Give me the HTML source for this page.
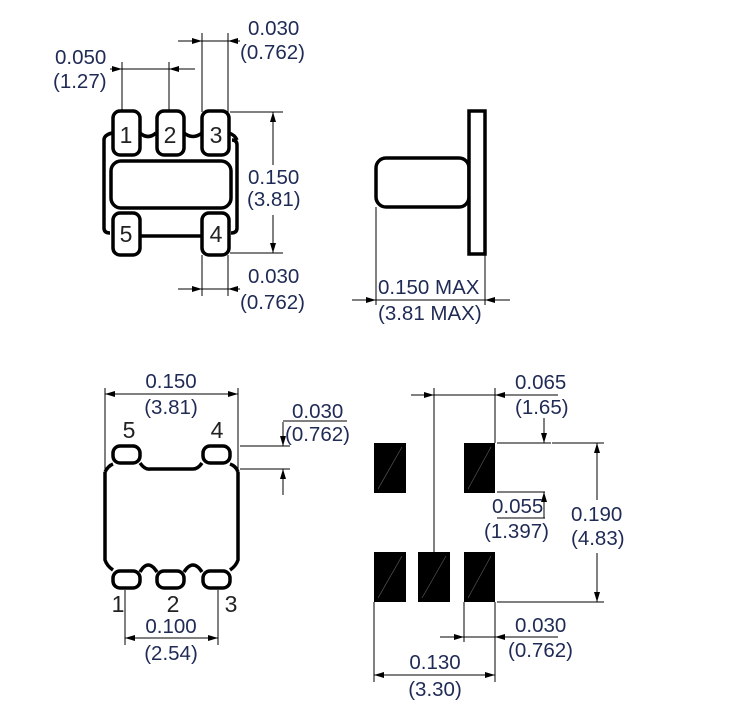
<!DOCTYPE html>
<html><head><meta charset="utf-8"><style>
html,body{margin:0;padding:0;background:#fff;}
svg{display:block;}
text{font-family:"Liberation Sans",sans-serif;font-size:20.5px;fill:#1f2a55;}
.n{font-size:23px;fill:#222;}
</style></head><body>
<svg width="749" height="708" viewBox="0 0 749 708" xmlns="http://www.w3.org/2000/svg">
<defs>
<marker id="a" viewBox="0 0 10 6" refX="10" refY="3" markerWidth="10" markerHeight="6" orient="auto-start-reverse" markerUnits="userSpaceOnUse"><path d="M0,0 L10,3 L0,6 z" fill="#000"/></marker>
</defs>
<g fill="none" stroke="#000" stroke-width="1">
<line x1="202" y1="33" x2="202" y2="112"/><line x1="228" y1="33" x2="228" y2="112"/>
<line x1="178" y1="41" x2="202" y2="41" marker-end="url(#a)"/><line x1="240" y1="41" x2="228" y2="41" marker-end="url(#a)"/>
<line x1="202" y1="41" x2="228" y2="41"/>
<line x1="122" y1="62" x2="122" y2="112"/><line x1="169" y1="62" x2="169" y2="112"/>
<line x1="110" y1="69" x2="122" y2="69" marker-end="url(#a)"/><line x1="195" y1="69" x2="169" y2="69" marker-end="url(#a)"/>
<line x1="122" y1="69" x2="169" y2="69"/>
<line x1="230" y1="112" x2="283" y2="112"/><line x1="230" y1="253" x2="283" y2="253"/>
<line x1="273" y1="165" x2="273" y2="112" marker-end="url(#a)"/><line x1="273" y1="215" x2="273" y2="253" marker-end="url(#a)"/>
<line x1="202" y1="255" x2="202" y2="296"/><line x1="228" y1="255" x2="228" y2="296"/>
<line x1="178" y1="289" x2="202" y2="289" marker-end="url(#a)"/><line x1="240" y1="289" x2="228" y2="289" marker-end="url(#a)"/>
<line x1="202" y1="289" x2="228" y2="289"/>
<line x1="376" y1="207" x2="376" y2="305"/><line x1="485" y1="254" x2="485" y2="305"/>
<line x1="352" y1="300" x2="376" y2="300" marker-end="url(#a)"/><line x1="510" y1="300" x2="485" y2="300" marker-end="url(#a)"/>
<line x1="376" y1="300" x2="485" y2="300"/>
<line x1="105" y1="388" x2="105" y2="470"/><line x1="238" y1="388" x2="238" y2="470"/>
<line x1="105" y1="394" x2="238" y2="394"/>
<line x1="130" y1="394" x2="105" y2="394" marker-end="url(#a)"/><line x1="213" y1="394" x2="238" y2="394" marker-end="url(#a)"/>
<line x1="240" y1="446" x2="290" y2="446"/><line x1="240" y1="469" x2="290" y2="469"/>
<line x1="283" y1="422" x2="283" y2="446" marker-end="url(#a)"/><line x1="283" y1="495" x2="283" y2="469" marker-end="url(#a)"/>
<line x1="283" y1="421" x2="347" y2="421"/>
<line x1="125" y1="590" x2="125" y2="645"/><line x1="218" y1="590" x2="218" y2="645"/>
<line x1="125" y1="638" x2="218" y2="638"/>
<line x1="150" y1="638" x2="125" y2="638" marker-end="url(#a)"/><line x1="193" y1="638" x2="218" y2="638" marker-end="url(#a)"/>
<line x1="434" y1="388" x2="434" y2="552"/><line x1="495" y1="388" x2="495" y2="443"/>
<line x1="411" y1="395" x2="434" y2="395" marker-end="url(#a)"/><line x1="558" y1="395" x2="495" y2="395" marker-end="url(#a)"/>
<line x1="434" y1="395" x2="495" y2="395"/>
<line x1="497" y1="443" x2="551" y2="443"/><line x1="497" y1="492" x2="545" y2="492"/>
<line x1="544" y1="418" x2="544" y2="443" marker-end="url(#a)"/><line x1="544" y1="518" x2="544" y2="492" marker-end="url(#a)"/>
<line x1="497" y1="518" x2="545" y2="518"/>
<line x1="552" y1="443" x2="604" y2="443"/><line x1="497" y1="602" x2="604" y2="602"/>
<line x1="597" y1="500" x2="597" y2="443" marker-end="url(#a)"/><line x1="597" y1="553" x2="597" y2="602" marker-end="url(#a)"/>
<line x1="464" y1="602" x2="464" y2="642"/><line x1="495" y1="602" x2="495" y2="682"/>
<line x1="440" y1="637" x2="464" y2="637" marker-end="url(#a)"/><line x1="558" y1="637" x2="495" y2="637" marker-end="url(#a)"/>
<line x1="464" y1="637" x2="495" y2="637"/>
<line x1="374" y1="602" x2="374" y2="682"/>
<line x1="374" y1="675" x2="495" y2="675"/>
<line x1="400" y1="675" x2="374" y2="675" marker-end="url(#a)"/><line x1="470" y1="675" x2="495" y2="675" marker-end="url(#a)"/>
</g>

<g fill="none" stroke="#000" stroke-width="3.5" stroke-linejoin="round">
<path d="M104,140 L104,228 Q104,233 110,233 M232,140 Q237,140 237,145 L237,228 Q237,233 231,233"/>
<path d="M104,140 Q104,135 112,133 M140,133 Q148,140 156,133 M184,133 Q193,140 202,133 M229,133 Q235,135 237,140"/>
<path d="M140,236 L202,236"/>
<rect x="113" y="111" width="27" height="44" rx="7" fill="#fff"/>
<rect x="157" y="111" width="27" height="44" rx="7" fill="#fff"/>
<rect x="202" y="111" width="27" height="44" rx="7" fill="#fff"/>
<rect x="111" y="161" width="120" height="47" rx="10" fill="#fff"/>
<rect x="113" y="213" width="27" height="42" rx="7" fill="#fff"/>
<rect x="202" y="213" width="27" height="42" rx="7" fill="#fff"/>
</g>
<text class="n" x="126" y="143" text-anchor="middle">1</text>
<text class="n" x="170" y="143" text-anchor="middle">2</text>
<text class="n" x="216" y="143" text-anchor="middle">3</text>
<text class="n" x="126" y="242" text-anchor="middle">5</text>
<text class="n" x="216" y="242" text-anchor="middle">4</text>

<g fill="#fff" stroke="#000" stroke-width="3.5">
<rect x="376" y="158" width="93" height="49" rx="10"/>
<rect x="469" y="111" width="16" height="143"/>
</g>

<g fill="none" stroke="#000" stroke-width="3.5" stroke-linejoin="round">
<path d="M105,472 L105,560 Q107,566 113,570 M238,472 L238,560 Q236,566 230,570"/>
<path d="M105,472 Q108,466 113,464 M140,463 Q145,470 150,469 L193,469 Q198,469 202,463 M230,464 Q236,466 238,472"/>
<path d="M140,572 Q148,558 157,572 M184,572 Q193,558 202,572"/>
<rect x="113" y="446" width="27" height="17" rx="7" fill="#fff"/>
<rect x="203" y="446" width="27" height="17" rx="7" fill="#fff"/>
<rect x="113" y="571" width="27" height="17" rx="7" fill="#fff"/>
<rect x="157" y="571" width="27" height="17" rx="7" fill="#fff"/>
<rect x="203" y="571" width="27" height="17" rx="7" fill="#fff"/>
</g>
<text class="n" x="129" y="438" text-anchor="middle">5</text>
<text class="n" x="217" y="438" text-anchor="middle">4</text>
<text class="n" x="118" y="612" text-anchor="middle">1</text>
<text class="n" x="173" y="612" text-anchor="middle">2</text>
<text class="n" x="231" y="612" text-anchor="middle">3</text>

<g fill="#000">
<rect x="374" y="443" width="32" height="50"/>
<rect x="464" y="443" width="31" height="50"/>
<rect x="374" y="552" width="32" height="50"/>
<rect x="418" y="552" width="32" height="50"/>
<rect x="464" y="552" width="31" height="50"/>
</g>
<g stroke="#555" stroke-width="0.7">
<line x1="378" y1="489" x2="402" y2="447"/><line x1="468" y1="489" x2="491" y2="447"/>
<line x1="378" y1="598" x2="402" y2="556"/><line x1="422" y1="598" x2="446" y2="556"/><line x1="468" y1="598" x2="491" y2="556"/>
</g>

<text x="248" y="35">0.030</text><text x="240" y="59">(0.762)</text>
<text x="55" y="64">0.050</text><text x="53" y="88">(1.27)</text>
<text x="248" y="184">0.150</text><text x="247" y="206">(3.81)</text>
<text x="248" y="283">0.030</text><text x="240" y="309">(0.762)</text>
<text x="378" y="294">0.150 MAX</text><text x="378" y="320">(3.81 MAX)</text>
<text x="171" y="388" text-anchor="middle">0.150</text><text x="171" y="414" text-anchor="middle">(3.81)</text>
<text x="292" y="418">0.030</text><text x="285" y="441">(0.762)</text>
<text x="171" y="633" text-anchor="middle">0.100</text><text x="171" y="660" text-anchor="middle">(2.54)</text>
<text x="515" y="389">0.065</text><text x="515" y="414">(1.65)</text>
<text x="492" y="513">0.055</text><text x="484" y="538">(1.397)</text>
<text x="571" y="521">0.190</text><text x="571" y="545">(4.83)</text>
<text x="515" y="632">0.030</text><text x="508" y="657">(0.762)</text>
<text x="435" y="669" text-anchor="middle">0.130</text><text x="435" y="696" text-anchor="middle">(3.30)</text>
</svg>
</body></html>
